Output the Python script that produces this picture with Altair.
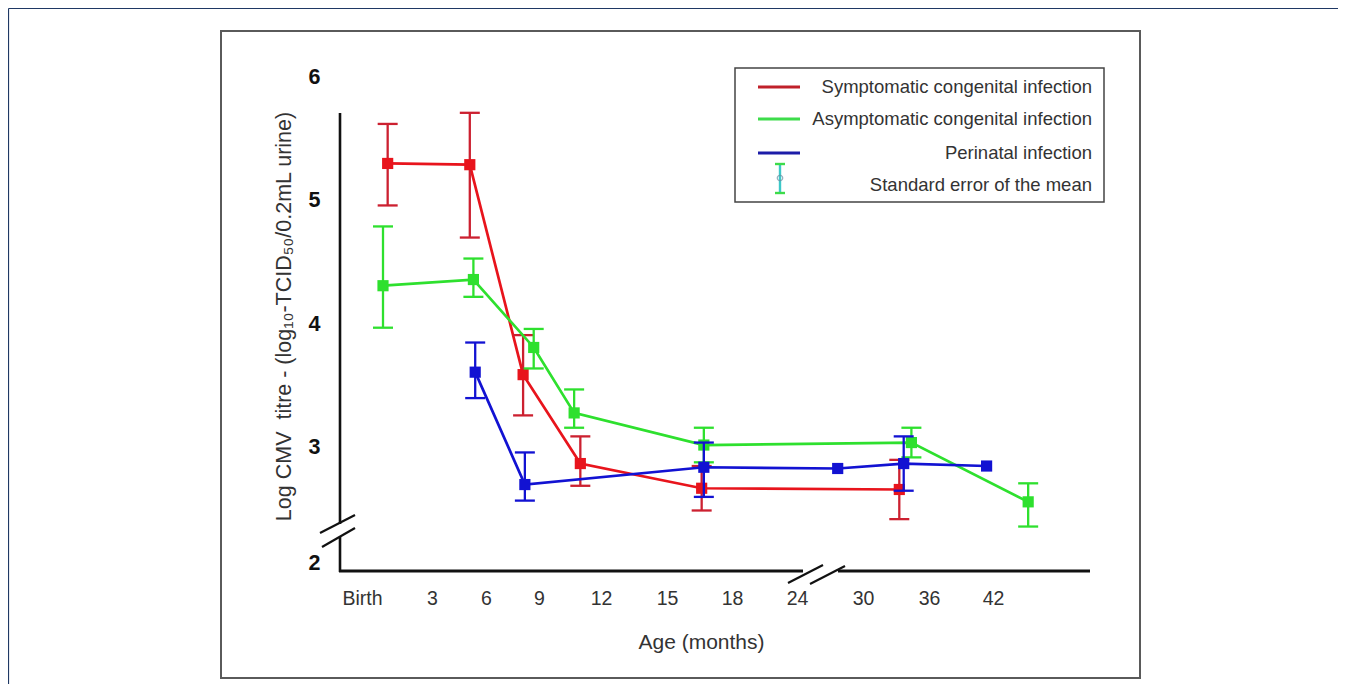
import altair as alt
import pandas as pd

# ---------------- data ----------------
tick_months = [0, 3, 6, 9, 12, 15, 18, 24, 30, 36, 42]
tick_labels = ["Birth", "3", "6", "9", "12", "15", "18", "24", "30", "36", "42"]
# irregular (broken) age axis: pixel position of each tick inside the plot
axis_domain = [-0.94] + tick_months + [51.1]
axis_range = [0, 22, 92, 146, 199, 261, 327, 392, 457, 523, 589, 653, 750]

sym_month = [1.1, 5.1, 8.1, 11.0, 16.6, 33.3]
sym_mean = [5.30, 5.29, 3.59, 2.87, 2.67, 2.66]
sym_lo = [4.96, 4.70, 3.26, 2.69, 2.49, 2.42]
sym_hi = [5.62, 5.71, 3.91, 3.09, 2.85, 2.90]

asym_month = [0.9, 5.3, 8.7, 10.7, 16.7, 34.4, 45.3]
asym_mean = [4.31, 4.36, 3.81, 3.28, 3.02, 3.04, 2.56]
asym_lo = [3.97, 4.22, 3.64, 3.16, 2.88, 2.92, 2.36]
asym_hi = [4.79, 4.53, 3.96, 3.47, 3.16, 3.16, 2.71]

peri_month = [5.4, 8.2, 16.7, 27.7, 33.7, 41.4]
peri_mean = [3.61, 2.70, 2.84, 2.83, 2.87, 2.85]
peri_lo = [3.40, 2.57, 2.60, None, 2.65, None]
peri_hi = [3.85, 2.96, 3.04, None, 3.09, None]

series_names = ["Symptomatic congenital infection",
                "Asymptomatic congenital infection",
                "Perinatal infection",
                "Standard error of the mean"]

FONT = "Liberation Sans"

x_scale = alt.Scale(domain=axis_domain, range=axis_range, nice=False, zero=False)
y_scale = alt.Scale(domain=[2, 6], nice=False, zero=False)

label_expr = "[" + ",".join("'%s'" % t for t in tick_labels) + "][indexof([" + \
    ",".join(str(m) for m in tick_months) + "], datum.value)]"

x_axis = alt.Axis(values=tick_months, labelExpr=label_expr, domain=False, ticks=False,
                  grid=False, labelFont=FONT, labelFontSize=19.5, labelColor="#333333",
                  labelPadding=18, labelFlush=False, labelOverlap=False,
                  title="Age (months)", titleFont=FONT, titleFontSize=21,
                  titleFontWeight="normal", titleColor="#333333", titleX=361, titleY=77,
                  titleAlign="center", titleBaseline="alphabetic")
y_axis = alt.Axis(values=[2, 3, 4, 5, 6], domain=False, ticks=False, grid=False,
                  labelFont=FONT, labelFontSize=21.5, labelFontWeight="bold",
                  labelColor="#111111", labelPadding=20, labelFlush=False,
                  labelOverlap=False,
                  labelOffset={"condition": {"test": "datum.value == 2", "value": -8}, "value": 0},
                  title="Log CMV\u00a0 titre - (log₁₀-TCID₅₀/0.2mL urine)", titleFont=FONT,
                  titleFontSize=21.5, titleFontWeight="normal", titleColor="#333333",
                  titleX=-56, titleY=239, titleAngle=270, titleAlign="center",
                  titleBaseline="middle")

X = alt.X("month:Q", scale=x_scale, axis=x_axis)


def series(month, mean, lo, hi, line_color, bar_color):
    df = pd.DataFrame({"month": month, "mean": mean, "lo": lo, "hi": hi})
    err = df.dropna()
    line = alt.Chart(df).mark_line(color=line_color, strokeWidth=2.7).encode(
        x=X, y=alt.Y("mean:Q", scale=y_scale, axis=y_axis), order="month:Q")
    bar = alt.Chart(err).mark_rule(color=bar_color, strokeWidth=2.3).encode(
        x=X, y=alt.Y("lo:Q", scale=y_scale, axis=y_axis), y2="hi:Q")
    cap_lo = alt.Chart(err).mark_tick(orient="horizontal", size=20, thickness=2.3,
                                      color=bar_color, opacity=1).encode(
        x=X, y=alt.Y("lo:Q", scale=y_scale, axis=y_axis))
    cap_hi = alt.Chart(err).mark_tick(orient="horizontal", size=20, thickness=2.3,
                                      color=bar_color, opacity=1).encode(
        x=X, y=alt.Y("hi:Q", scale=y_scale, axis=y_axis))
    pts = alt.Chart(df).mark_square(size=125, color=line_color, opacity=1, filled=True).encode(
        x=X, y=alt.Y("mean:Q", scale=y_scale, axis=y_axis))
    return [line, bar, cap_lo, cap_hi, pts]


one = pd.DataFrame({"k": [0]})


def seg(x1, y1, x2, y2, color="#111111", w=2.6):
    return alt.Chart(one).mark_rule(color=color, strokeWidth=w).encode(
        x=alt.value(x1), y=alt.value(y1), x2=alt.value(x2), y2=alt.value(y2))


def txt(x, y, s, size=18.5, align="right", color="#333333"):
    return alt.Chart(pd.DataFrame({"t": [s]})).mark_text(
        font=FONT, fontSize=size, align=align, baseline="middle", color=color).encode(
        x=alt.value(x), y=alt.value(y), text="t:N")


deco = []
# outer page frame
deco.append(seg(-331.5, -68.5, 1006, -68.5, color="#1f3864", w=1.2))
deco.append(seg(-331.5, -68.5, -331.5, 607, color="#1f3864", w=1.2))
# figure box
deco.append(alt.Chart(one).mark_rect(fill="transparent", stroke="#5a5a5a", strokeWidth=2).encode(
    x=alt.value(-119), x2=alt.value(800), y=alt.value(-46), y2=alt.value(601)))
# broken y axis
deco.append(seg(0, 36, 0, 447))
deco.append(seg(0, 460, 0, 495))
deco.append(seg(-20, 456, 15, 438, w=2.2))
deco.append(seg(-18, 470, 15, 451, w=2.2))
# broken x axis
deco.append(seg(-1, 494, 463, 494, w=3))
deco.append(seg(498, 494, 750, 494, w=3))
deco.append(seg(448, 506, 483, 488, w=2.2))
deco.append(seg(470, 507, 505, 489, w=2.2))

# legend
legend = [alt.Chart(one).mark_rect(fill="white", stroke="#444444", strokeWidth=1.5).encode(
    x=alt.value(395), x2=alt.value(764), y=alt.value(-9), y2=alt.value(125))]
legend_colors = ["#c0202a", "#3ddc4a", "#1c1ca8"]
legend_rows = [10, 42, 76, 108]
for c, yy in zip(legend_colors, legend_rows[:3]):
    legend.append(seg(418, yy, 460, yy, color=c, w=2.8))
legend.append(seg(440, 87, 440, 116, color="#3cc8c8", w=2.4))
legend.append(seg(435, 87, 445, 87, color="#3ddc4a", w=2.4))
legend.append(seg(435, 116, 445, 116, color="#3ddc4a", w=2.4))
legend.append(alt.Chart(one).mark_point(shape="circle", size=30, color="#6a8aa0",
                                        filled=False, strokeWidth=1.2).encode(
    x=alt.value(440), y=alt.value(101)))
for name, yy in zip(series_names, legend_rows):
    legend.append(txt(752, yy, name))

layers = []
layers += deco
layers += series(sym_month, sym_mean, sym_lo, sym_hi, "#e8141c", "#cc2030")
layers += series(asym_month, asym_mean, asym_lo, asym_hi, "#2ee02e", "#2ee02e")
layers += series(peri_month, peri_mean, peri_lo, peri_hi, "#1212d2", "#1212d2")
layers += legend

chart = alt.layer(*layers).properties(
    width=750, height=494,
    autosize=alt.AutoSizeParams(type="none"),
    padding={"left": 332, "top": 69, "right": 248, "bottom": 113},
    background="white",
).configure_view(stroke=None)

chart.save("out.html", embed_options={"renderer": "svg", "actions": False})
